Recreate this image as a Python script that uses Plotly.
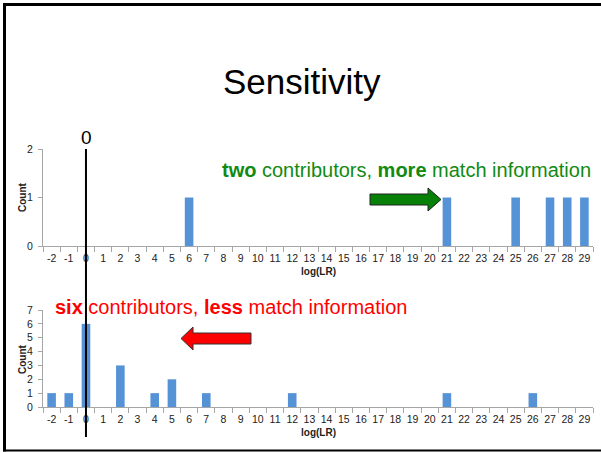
import plotly.graph_objects as go

# ---- data ----
lr_bins = ["-2", "-1", "0", "1", "2", "3", "4", "5", "6", "7", "8", "9", "10",
           "11", "12", "13", "14", "15", "16", "17", "18", "19", "20", "21",
           "22", "23", "24", "25", "26", "27", "28", "29"]
two_contrib = [0, 0, 0, 0, 0, 0, 0, 0, 1, 0,
               0, 0, 0, 0, 0, 0, 0, 0, 0, 0,
               0, 0, 0, 1, 0, 0, 0, 1, 0, 1,
               1, 1]
six_contrib = [1, 1, 6, 0, 3, 0, 1, 2, 0, 1,
               0, 0, 0, 0, 1, 0, 0, 0, 0, 0,
               0, 0, 0, 1, 0, 0, 0, 0, 1, 0,
               0, 0]
top_yticks = [0, 1, 2]
bottom_yticks = [0, 1, 2, 3, 4, 5, 6, 7]
zero_bin = "0"

W, H = 601, 452
FONT = "Liberation Sans, Arial, sans-serif"
BAR = "#5592d6"
AXC = "#a6a6a6"


def px(x):
    return x / W


def py(y):
    return 1 - y / H


fig = go.Figure()
fig.add_trace(go.Bar(x=lr_bins, y=two_contrib, marker=dict(color=BAR, line=dict(width=0)),
                     xaxis="x", yaxis="y", showlegend=False, hoverinfo="skip"))
fig.add_trace(go.Bar(x=lr_bins, y=six_contrib, marker=dict(color=BAR, line=dict(width=0)),
                     xaxis="x2", yaxis="y2", showlegend=False, hoverinfo="skip"))

xcommon = dict(type="category", categoryorder="array", categoryarray=lr_bins,
               showgrid=False, zeroline=False, showline=True, linecolor=AXC, linewidth=1,
               ticks="outside", tickson="boundaries", ticklen=5, tickcolor=AXC, tickangle=0,
               ticklabelstandoff=2,
               tickfont=dict(family=FONT, size=10.5, color="#222"), automargin=False,
               fixedrange=True)
ycommon = dict(showgrid=False, zeroline=False, showline=True, linecolor=AXC, linewidth=1,
               ticks="outside", ticklen=4, tickcolor=AXC, tickmode="array", automargin=False,
               ticklabelstandoff=3,
               tickfont=dict(family=FONT, size=10.5, color="#222"), fixedrange=True)

fig.update_layout(
    width=W, height=H, autosize=False,
    margin=dict(l=0, r=0, t=0, b=0, pad=0),
    paper_bgcolor="white", plot_bgcolor="white",
    bargap=0.5,
    xaxis=dict(domain=[px(43), px(593)], anchor="y", **xcommon),
    yaxis=dict(domain=[py(246), py(149)], anchor="x", range=[0, 2],
               tickvals=top_yticks, **ycommon),
    xaxis2=dict(domain=[px(43), px(593)], anchor="y2", **xcommon),
    yaxis2=dict(domain=[py(407), py(310)], anchor="x2", range=[0, 7],
                tickvals=bottom_yticks, **ycommon),
)

annotations = [
    dict(text="Sensitivity", x=px(302), y=py(82), font=dict(family=FONT, size=35, color="black")),
    dict(text="<b>two</b> contributors, <b>more</b> match information", x=px(406), y=py(170),
         font=dict(family=FONT, size=20, color="#118a11")),
    dict(text="<b>six</b> contributors, <b>less</b> match information", x=px(231), y=py(307),
         font=dict(family=FONT, size=20, color="#ff0000")),
    dict(text="0", x=px(86), y=py(138), font=dict(family=FONT, size=19, color="black")),
    dict(text="<b>log(LR)</b>", x=px(318), y=py(271), font=dict(family=FONT, size=10, color="#222")),
    dict(text="<b>log(LR)</b>", x=px(318), y=py(432), font=dict(family=FONT, size=10, color="#222")),
    dict(text="<b>Count</b>", x=px(22), y=py(197), textangle=-90,
         font=dict(family=FONT, size=10, color="#222")),
    dict(text="<b>Count</b>", x=px(22), y=py(359), textangle=-90,
         font=dict(family=FONT, size=10, color="#222")),
]
for a in annotations:
    a.update(xref="paper", yref="paper", showarrow=False, xanchor="center", yanchor="middle")
    fig.add_annotation(**a)


def path(points):
    return "M " + " L ".join(f"{px(x)},{py(y)}" for x, y in points) + " Z"


shapes = [
    # slide frame
    dict(type="line", x0=px(4.5), x1=px(4.5), y0=py(3), y1=py(451.5), line=dict(color="black", width=3)),
    dict(type="line", x0=px(3), x1=px(601), y0=py(4.5), y1=py(4.5), line=dict(color="black", width=3)),
    dict(type="line", x0=px(3), x1=px(601), y0=py(450.5), y1=py(450.5), line=dict(color="black", width=2)),
    # green arrow (right)
    dict(type="path", path=path([(370, 194), (428, 194), (428, 188), (441, 199.5),
                                 (428, 211), (428, 205), (370, 205)]),
         fillcolor="#068006", line=dict(color="#222", width=1)),
    # red arrow (left)
    dict(type="path", path=path([(251, 333), (193, 333), (193, 327), (181, 338.5),
                                 (193, 350), (193, 344), (251, 344)]),
         fillcolor="#ff0000", line=dict(color="#333", width=1)),
]
for s in shapes:
    s.update(xref="paper", yref="paper")
    fig.add_shape(**s)

# vertical reference line at log(LR) = 0 (category index on the shared category axis)
zi = lr_bins.index(zero_bin)
fig.add_shape(type="line", xref="x", yref="paper", x0=zi, x1=zi,
              y0=py(437), y1=py(149), line=dict(color="black", width=2))

fig.write_html("out.html", config={"displayModeBar": False, "responsive": False},
               post_script="document.body.style.margin='0';")
